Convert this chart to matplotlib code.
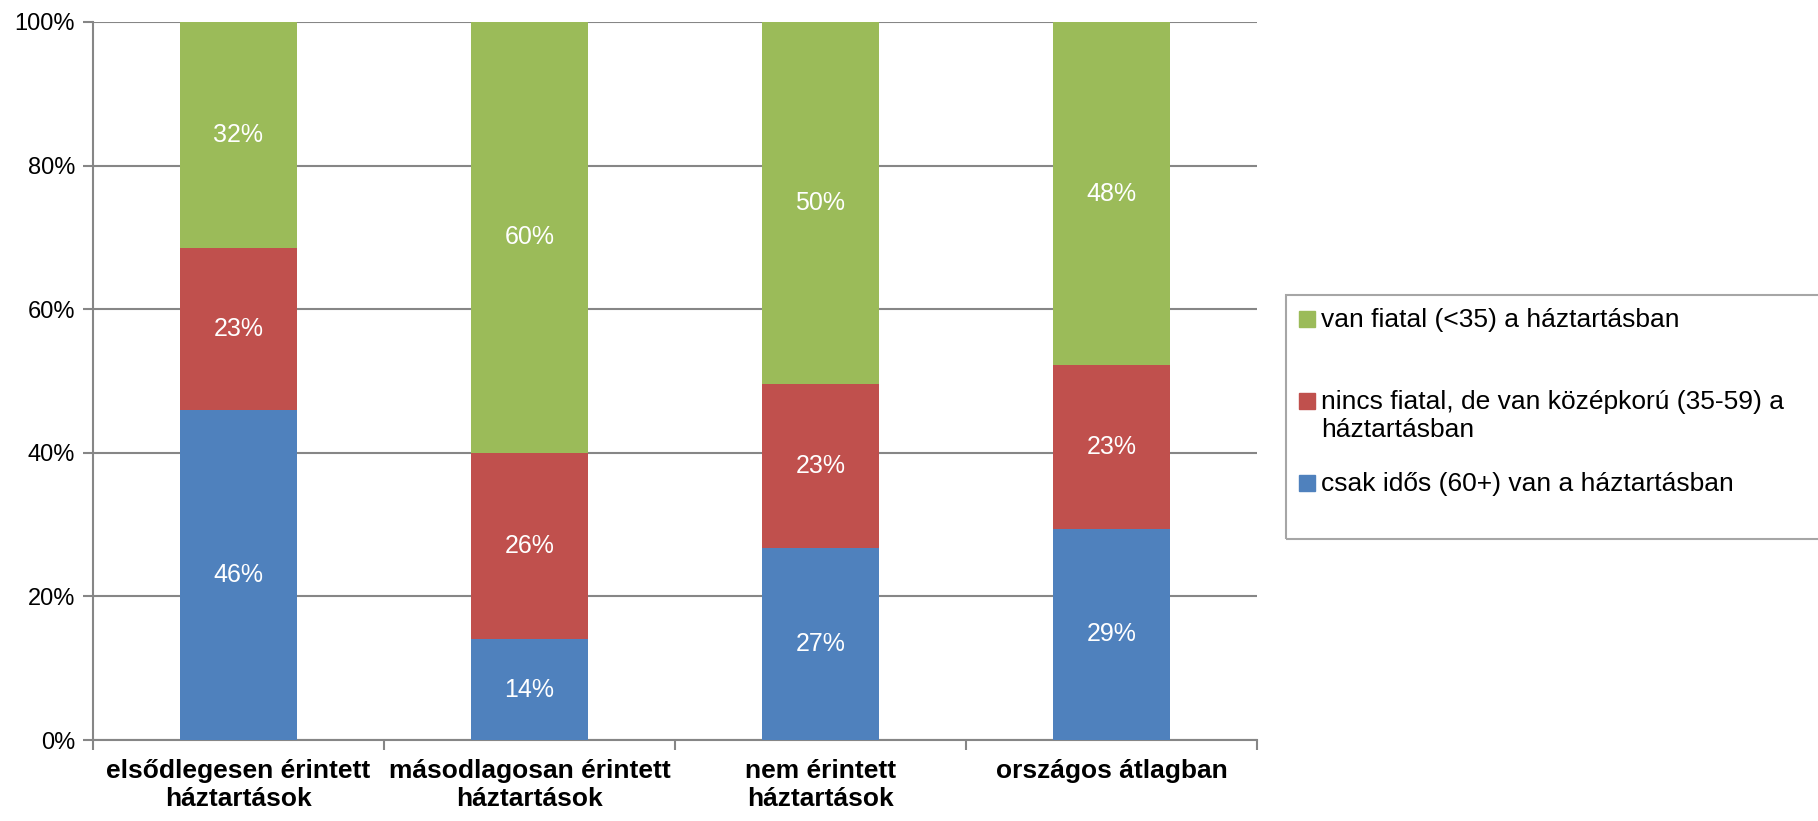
import numpy as np
import matplotlib.pyplot as plt
from matplotlib.patches import Rectangle

# Data
categories = ["elsődlegesen érintett\nháztartások", "másodlagosan érintett\nháztartások",
              "nem érintett\nháztartások", "országos átlagban"]
idos = [45.9, 14.0, 26.8, 29.4]
kozepkoru = [22.6, 26.0, 22.8, 22.8]
fiatal = [31.5, 60.0, 50.4, 47.8]
series_names = ["csak idős (60+) van a háztartásban",
                "nincs fiatal, de van középkorú (35-59) a\nháztartásban",
                "van fiatal (<35) a háztartásban"]
colors = ["#4F81BD", "#C0504D", "#9BBB59"]

plt.rcParams["font.family"] = ["Liberation Sans", "DejaVu Sans"]

fig = plt.figure(figsize=(18.18, 8.21), dpi=100)
ax = fig.add_axes([93 / 1818, 81 / 821, (1257 - 93) / 1818, (740 - 22) / 821])

x = np.arange(len(categories))
series = [idos, kozepkoru, fiatal]
bottom = np.zeros(len(categories))
for vals, col in zip(series, colors):
    vals = np.array(vals)
    ax.bar(x, vals, 0.4, bottom=bottom, color=col, zorder=3)
    for xi, b, v in zip(x, bottom, vals):
        ax.text(xi, b + v / 2, f"{v:.0f}%", ha="center", va="center",
                color="white", fontsize=18, zorder=4)
    bottom += vals

ax.set_xlim(-0.5, 3.5)
ax.set_ylim(0, 100)
ax.set_yticks(range(0, 101, 20))
ax.set_yticklabels([f"{v}%" for v in range(0, 101, 20)], fontsize=17)
ax.yaxis.grid(True, color="#868686", linewidth=1.5, zorder=0)
ax.set_xticks(x)
ax.set_xticklabels(categories, fontsize=19, fontweight="bold", linespacing=1.2)
ax.set_xticks(np.arange(-0.5, 4, 1), minor=True)
ax.tick_params(axis="x", which="major", length=0, pad=14)
ax.tick_params(axis="x", which="minor", length=7, width=1.5, color="#868686")
ax.tick_params(axis="y", length=7, width=1.5, color="#868686", pad=6)
for s in ["top", "right"]:
    ax.spines[s].set_visible(False)
for s in ["left", "bottom"]:
    ax.spines[s].set_color("#868686")
    ax.spines[s].set_linewidth(1.5)

# Legend box (drawn by hand to mimic the Excel layout)
W, H = 1818, 821
fig.patches.append(Rectangle((1286 / W, 1 - 539 / H), (1840 - 1286) / W, (539 - 295) / H,
                             transform=fig.transFigure, fill=False,
                             edgecolor="#A6A6A6", linewidth=1.5))
leg_y = [319, 401, 483]
for name, col, yy in zip(series_names[::-1], colors[::-1], leg_y):
    fig.patches.append(Rectangle((1299 / W, 1 - (yy + 8) / H), 16 / W, 16 / H,
                                 transform=fig.transFigure, color=col))
    fig.text(1321 / W, 1 - (yy - 11) / H, name, fontsize=19, va="top", ha="left",
             linespacing=1.2)

fig.savefig("out.png", dpi=100)
